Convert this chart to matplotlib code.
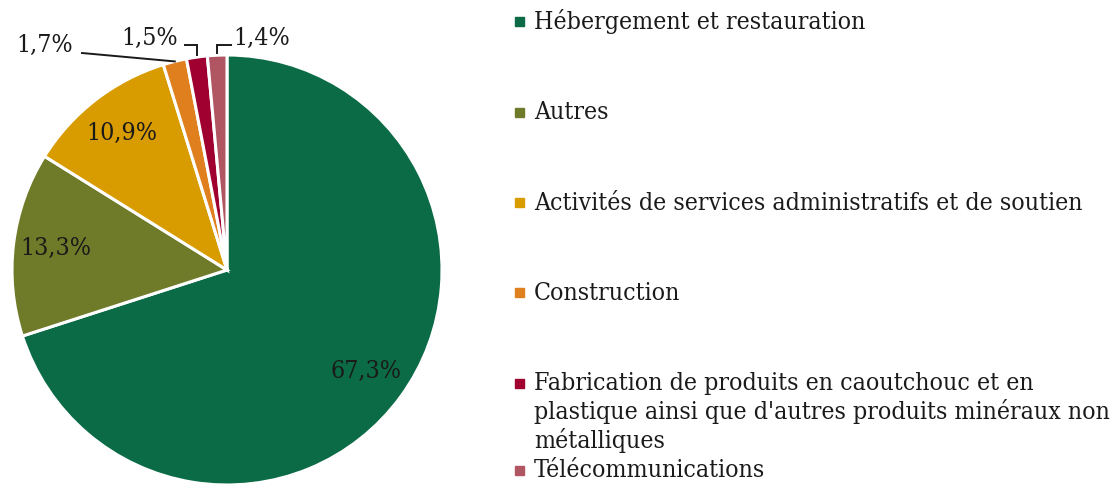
import matplotlib.pyplot as plt
import numpy as np

# Sector shares (%)
sectors = [
    "Hébergement et restauration",
    "Autres",
    "Activités de services administratifs et de soutien",
    "Construction",
    "Fabrication de produits en caoutchouc et en\nplastique ainsi que d'autres produits minéraux non\nmétalliques",
    "Télécommunications",
]
shares = [67.3, 13.3, 10.9, 1.7, 1.5, 1.4]
colors = ["#0b6b47", "#6f7b29", "#d99c00", "#e07f1d", "#a00030", "#b05562"]

FONT = {"family": "DejaVu Serif", "stretch": "condensed"}
TXT = "#1a1a1a"
FS = 17.8

W, H = 1116, 486
fig = plt.figure(figsize=(W / 100, H / 100), dpi=100)

# pie axes: center (227, 270) px, radius 215 px
cx, cy, r = 227, 270, 215
ax = fig.add_axes([(cx - r) / W, (H - cy - r) / H, 2 * r / W, 2 * r / H])

wedges, _ = ax.pie(shares, colors=colors, startangle=90, counterclock=False,
                   radius=1, wedgeprops=dict(edgecolor="white", linewidth=2.2))
ax.set_xlim(-1, 1)
ax.set_ylim(-1, 1)
ax.set_aspect("equal")
ax.axis("off")


def px(x, y):
    return (x - cx) / r, (cy - y) / r


def pct(v):
    return f"{v:.1f}%".replace(".", ",")


# labels inside the big slices
for w, v in zip(wedges[:3], shares[:3]):
    mid = np.deg2rad((w.theta1 + w.theta2) / 2)
    ax.text(0.8 * np.cos(mid), 0.8 * np.sin(mid), pct(v),
            ha="center", va="center", fontsize=FS, color=TXT, **FONT)

# small slices: labels outside with leader lines
small_pos = [(45, 45), (150, 38), (262, 38)]
for i, (w, v, (tx, ty)) in enumerate(zip(wedges[3:], shares[3:], small_pos)):
    mid = np.deg2rad((w.theta1 + w.theta2) / 2)
    ex, ey = np.cos(mid), np.sin(mid)
    lx, ly = px(tx, ty)
    ax.text(lx, ly, pct(v), ha="center", va="center", fontsize=FS, color=TXT,
            clip_on=False, **FONT)
    if i == 0:
        sx, sy = px(tx + 37, ty + 8)
        ax.plot([sx, ex], [sy, ey], color=TXT, lw=1.4, clip_on=False)
    else:
        sx, sy = px(tx + 35 if ex > lx else tx - 31, ty + 7)
        ax.plot([sx, ex, ex], [sy, sy, ey + 0.012], color=TXT, lw=1.4,
                clip_on=False, solid_joinstyle="miter")

# legend drawn on the right, one text per line
line_h = 29
row_gap = 90.3
y = 22
for name, c in zip(sectors, colors):
    lines = name.split("\n")
    fig.patches.append(plt.Rectangle(((519 - 4.5) / W, (H - y - 4.5) / H), 9 / W, 9 / H,
                                     transform=fig.transFigure, color=c))
    for k, ln in enumerate(lines):
        fig.text(534 / W, (H - y - 7 - k * line_h) / H, ln, ha="left", va="baseline",
                 fontsize=FS, color=TXT, **FONT)
    y += row_gap if len(lines) == 1 else len(lines) * line_h

fig.savefig("out.png", dpi=100, facecolor="white")
